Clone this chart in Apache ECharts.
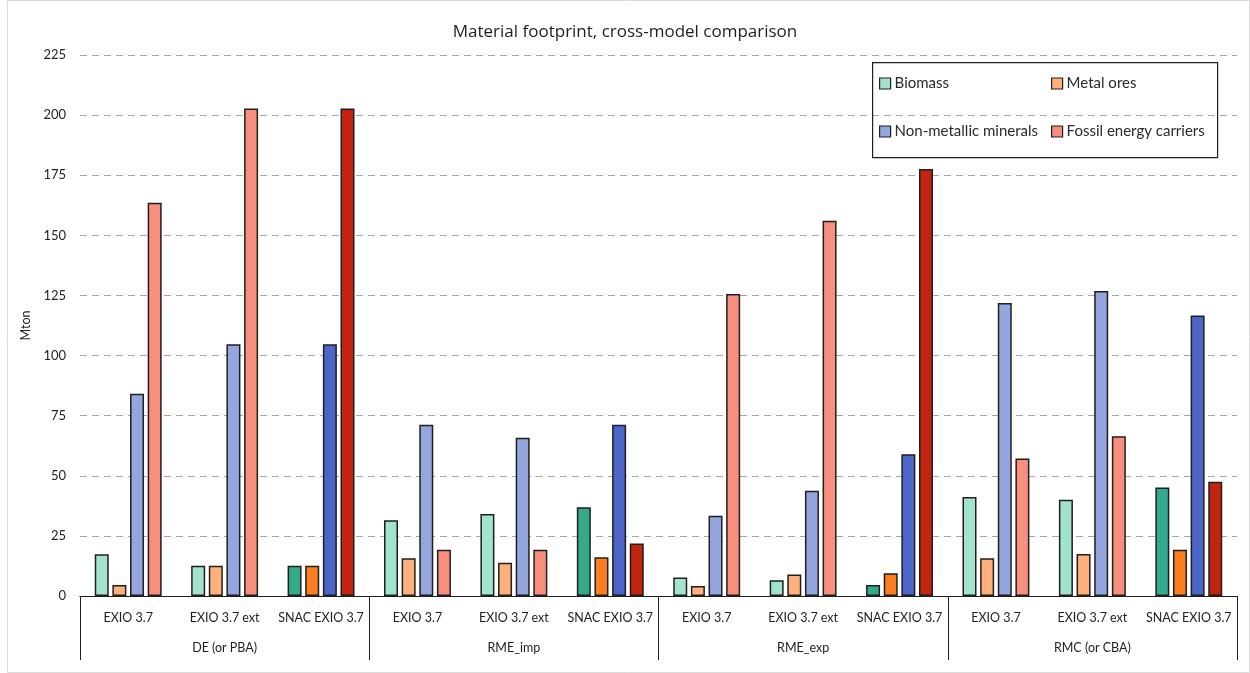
<!DOCTYPE html>
<html>
<head>
<meta charset="utf-8">
<title>Material footprint, cross-model comparison</title>
<script src="https://cdn.jsdelivr.net/npm/echarts@6/dist/echarts.min.js"></script>
<style>
  html, body { margin: 0; padding: 0; background: #fff; }
  #chart { width: 1250px; height: 673px; }
</style>
</head>
<body>
<div id="chart"></div>
<script>
// Models shown within each indicator, and the indicators themselves
const models = ['EXIO 3.7', 'EXIO 3.7 ext', 'SNAC EXIO 3.7'];
const indicators = ['DE (or PBA)', 'RME_imp', 'RME_exp', 'RMC (or CBA)'];
const categories = [
  'EXIO 3.7', 'EXIO 3.7 ext', 'SNAC EXIO 3.7',
  'EXIO 3.7', 'EXIO 3.7 ext', 'SNAC EXIO 3.7',
  'EXIO 3.7', 'EXIO 3.7 ext', 'SNAC EXIO 3.7',
  'EXIO 3.7', 'EXIO 3.7 ext', 'SNAC EXIO 3.7'
];
const yTicks = [0, 25, 50, 75, 100, 125, 150, 175, 200, 225];

// Mton per material group, ordered as the categories above
const biomass = [17.4, 12.6, 12.6, 31.5, 34.1, 36.9, 7.7, 6.5, 4.6, 41.2, 40.0, 45.1];
const metalOres = [4.6, 12.6, 12.6, 15.7, 13.8, 16.1, 4.2, 8.9, 9.5, 15.7, 17.5, 19.2];
const nonMetallic = [84.1, 104.7, 104.7, 71.2, 65.8, 71.2, 33.4, 43.8, 59.0, 121.9, 126.9, 116.7];
const fossil = [163.6, 202.7, 202.7, 19.2, 19.2, 21.8, 125.6, 156.1, 177.6, 57.2, 66.4, 47.5];

const FONT = 'Lato, "Open Sans", sans-serif';
const EDGE = '#1f1f1f';

// light tone for EXIO runs, darker tone for the SNAC run
const materials = [
  { name: 'Biomass', values: biomass, light: '#a2e3d0', dark: '#33aa8c' },
  { name: 'Metal ores', values: metalOres, light: '#ffb07b', dark: '#fd7e21' },
  { name: 'Non-metallic minerals', values: nonMetallic, light: '#95a5de', dark: '#4b65c8' },
  { name: 'Fossil energy carriers', values: fossil, light: '#f78e7e', dark: '#c1240f' }
];

const series = materials.map(m => ({
  name: m.name,
  type: 'bar',
  xAxisIndex: 0,
  barWidth: 14,
  barGap: '26%',
  itemStyle: { color: m.light, borderColor: EDGE, borderWidth: 1.5 },
  data: m.values.map((v, i) => categories[i].startsWith('SNAC')
    ? { value: v, itemStyle: { color: m.dark } }
    : v)
}));

// one legend per entry so the two columns line up
const legendSpots = [
  { left: 879, top: 76 },
  { left: 1051, top: 76 },
  { left: 879, top: 124 },
  { left: 1051, top: 124 }
];
const legends = materials.map((m, i) => ({
  data: [m.name],
  left: legendSpots[i].left,
  top: legendSpots[i].top,
  padding: 0,
  icon: 'rect',
  itemWidth: 11,
  itemHeight: 11,
  itemStyle: { borderColor: EDGE, borderWidth: 1.2 },
  textStyle: { fontFamily: FONT, fontSize: 15, color: '#2a2a2a', padding: [0, 0, 0, -1] },
  selectedMode: false
}));

const chart = echarts.init(document.getElementById('chart'), null, { renderer: 'canvas' });
chart.setOption({
  animation: false,
  backgroundColor: '#fff',
  title: {
    text: 'Material footprint, cross-model comparison',
    left: 'center',
    top: 19,
    textStyle: { fontFamily: '"Open Sans", Lato, sans-serif', fontSize: 17, fontWeight: 'normal', color: '#1e1e1e' }
  },
  legend: legends,
  graphic: [
    {
      type: 'rect',
      left: 872, top: 62,
      shape: { width: 345, height: 95 },
      style: { fill: 'transparent', stroke: EDGE, lineWidth: 1.2 },
      z: 5
    },
    {
      type: 'rect',
      left: 7, top: 0,
      shape: { width: 1242, height: 672 },
      style: { fill: 'transparent', stroke: '#dcdcdc', lineWidth: 1 },
      z: -1
    }
  ],
  grid: { left: 80, right: 13, top: 55, bottom: 77, containLabel: false },
  xAxis: [
    {
      type: 'category',
      data: categories,
      position: 'bottom',
      axisLine: { show: true, lineStyle: { color: EDGE, width: 1.2 } },
      axisTick: { show: false },
      axisLabel: { interval: 0, margin: 15, fontFamily: FONT, fontSize: 12.5, color: '#1e1e1e' }
    },
    {
      type: 'category',
      data: indicators,
      position: 'bottom',
      axisLine: { show: false },
      axisTick: { show: true, interval: 0, length: 64, lineStyle: { color: EDGE, width: 1 } },
      axisLabel: { interval: 0, margin: 45, fontFamily: FONT, fontSize: 12.5, color: '#1e1e1e' },
      splitLine: { show: false }
    }
  ],
  yAxis: {
    type: 'value',
    min: yTicks[0],
    max: yTicks[yTicks.length - 1],
    interval: yTicks[1] - yTicks[0],
    name: 'Mton',
    nameLocation: 'middle',
    nameGap: 47,
    nameTextStyle: { fontFamily: FONT, fontSize: 12.5, color: '#1e1e1e' },
    axisLine: { show: false },
    axisTick: { show: false },
    axisLabel: { margin: 14, fontFamily: FONT, fontSize: 13, color: '#222' },
    splitLine: { show: true, lineStyle: { color: '#a6a6a6', type: [7, 5], width: 1 } }
  },
  series: series
});
</script>
</body>
</html>
